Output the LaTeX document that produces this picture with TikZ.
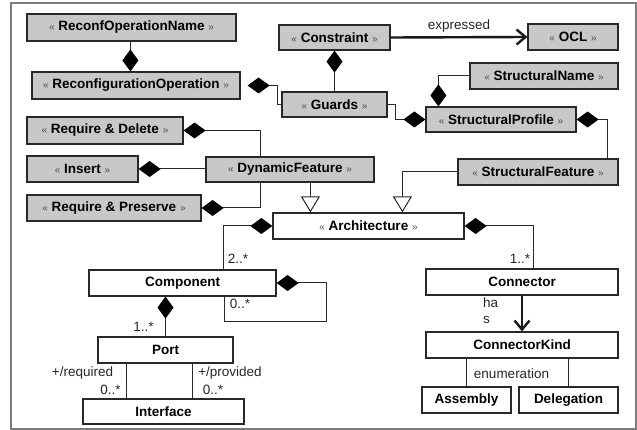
\documentclass[tikz,border=0pt]{standalone}
\usepackage{fontspec}
\setmainfont{Liberation Sans}
\usetikzlibrary{arrows.meta,calc}
\definecolor{boxgray}{RGB}{200,200,200}
\definecolor{lin}{RGB}{40,40,40}
\definecolor{framec}{RGB}{125,125,125}
\newcommand\gul{{\mdseries\fontsize{10}{10}\selectfont\color{black!70}«}}
\newcommand\gur{{\mdseries\fontsize{10}{10}\selectfont\color{black!70}»}}
\begin{document}
\begin{tikzpicture}[x=1pt,y=-1pt,
  box/.style={draw=lin, line width=1.2pt, fill=boxgray, inner sep=0pt,
    font=\fontsize{13.5}{16}\selectfont\bfseries, text=black},
  wbox/.style={box, fill=white},
  ln/.style={draw=lin, line width=1pt},
  dstart/.style={ln, {Diamond[length=22pt,width=16pt,color=black]}-},
  dend/.style={ln, -{Diamond[length=22pt,width=16pt,color=black]}},
  gen/.style={ln, -{Triangle[open,length=16pt,width=19pt,fill=white]}},
  assoc/.style={draw=black!90, line width=2.4pt, -{Straight Barb[length=9pt,width=15pt]}},
  lbl/.style={font=\fontsize{13.5}{16}\selectfont, inner sep=0pt, text=black!85}]
\useasboundingbox (0,0) rectangle (637,430);
\draw[framec, line width=1.5pt] (11,3) rectangle (636,429);

% nodes
\node[box, minimum width=209pt, minimum height=27pt] (ron) at (131.5,27.5) {\gul\ ReconfOperationName\ \gur};
\node[box, minimum width=208pt, minimum height=27pt] (ro) at (136,85.5) {\gul\ ReconfigurationOperation\ \gur};
\node[box, minimum width=111pt, minimum height=25pt] (con) at (334.5,37.5) {\gul\ Constraint\ \gur};
\node[box, minimum width=90pt, minimum height=26pt] (ocl) at (573,37) {\gul\ OCL\ \gur};
\node[box, minimum width=105pt, minimum height=25pt] (guards) at (334.5,104.5) {\gul\ Guards\ \gur};
\node[box, minimum width=148pt, minimum height=26pt] (sn) at (544,76) {\gul\ StructuralName\ \gur};
\node[box, minimum width=150pt, minimum height=25pt] (sp) at (501,119.5) {\gul\ StructuralProfile\ \gur};
\node[box, minimum width=160pt, minimum height=26pt] (sf) at (538,172) {\gul\ StructuralFeature\ \gur};
\node[box, minimum width=168pt, minimum height=25pt] (df) at (290,169.5) {\gul\ DynamicFeature\ \gur};
\node[box, minimum width=156pt, minimum height=27pt] (rd) at (105,130.5) {\gul\ Require \& Delete\ \gur};
\node[box, minimum width=111pt, minimum height=26pt] (ins) at (82.5,169) {\gul\ Insert\ \gur};
\node[box, minimum width=174pt, minimum height=26pt] (rp) at (114,208) {\gul\ Require \& Preserve\ \gur};
\node[wbox, minimum width=191pt, minimum height=26pt] (arch) at (368.5,226) {\gul\ Architecture\ \gur};
\node[wbox, minimum width=187pt, minimum height=26pt] (comp) at (182.5,283) {Component};
\node[wbox, minimum width=192pt, minimum height=26pt] (conn) at (522,282) {Connector};
\node[wbox, minimum width=135pt, minimum height=26pt] (port) at (165.5,350) {Port};
\node[wbox, minimum width=161pt, minimum height=25pt] (intf) at (163.5,411.5) {Interface};
\node[wbox, minimum width=192pt, minimum height=26pt] (ck) at (522,345) {ConnectorKind};
\node[wbox, minimum width=89pt, minimum height=26pt] (asm) at (466.5,400) {Assembly};
\node[wbox, minimum width=99pt, minimum height=26pt] (del) at (568.5,400) {Delegation};

% connectors
\coordinate (r1) at ($(ron.south west)+(104,0)$);
\draw[dend] (r1) -- (r1 |- ro.north);
\draw[dstart, shorten <=7pt] (ro.east) -- ++(37,0) |- (guards.west);
\draw[dstart] (con.south) -- (guards.north);
\draw[assoc] (con.east) -- node[lbl, above=4pt] {expressed} (ocl.west);
\draw[dend] (sn.west) -| ($(sp.north west)+(13,0)$);
\draw[dend] (guards.east) -- ++(8,0) |- (sp.west);
\draw[dstart] (sp.east) -| ($(sf.north east)+(-11,0)$);
\draw[gen] (sf.west) -| ($(arch.north west)+(130,0)$);
\coordinate (a1) at ($(arch.north west)+(38,0)$);
\draw[gen] (df.south -| a1) -- (a1);
\draw[dstart] (rd.east) -| ($(df.north west)+(55,0)$);
\draw[dstart] (ins.east) -- (ins.east -| df.west);
\draw[dstart] (rp.east) -| ($(df.south west)+(55,0)$);
\draw[dstart] (arch.west) -| ($(comp.north east)+(-53,0)$);
\draw[dstart] (arch.east) -| ($(conn.north west)+(108,0)$);
\draw[dstart] (comp.east) -- ++(50,0) -- ++(0,38) -| ($(comp.south west)+(136,0)$);
\draw[dstart] (port.north |- comp.south) -- (port.north);
\coordinate (p1) at ($(port.south west)+(29,0)$);
\coordinate (p2) at ($(port.south west)+(95,0)$);
\draw[ln] (p1) -- (p1 |- intf.north);
\draw[ln] (p2) -- (p2 |- intf.north);
\draw[assoc] (conn.south) -- (ck.north);
\draw[ln] (asm.north) -- (asm.north |- ck.south);
\draw[ln] (del.north) -- (del.north |- ck.south);

% labels
\node[lbl] (l1) at (238,259) {2..*};
\node[lbl] (l2) at (520,259) {1..*};
\node[lbl] (l3) at (240,304) {0..*};
\node[lbl] (l4) at (143.5,327) {1..*};
\node[lbl] (l5) at (82.5,373) {+/required};
\node[lbl] (l6) at (110.5,390) {0..*};
\node[lbl] (l7) at (230,373) {+/provided};
\node[lbl] (l8) at (213,390) {0..*};
\node[lbl] (l9) at (511.5,374) {enumeration};
\node[lbl, align=left, anchor=north west] (l10) at (483,298) {ha\\s};
\end{tikzpicture}
\end{document}
